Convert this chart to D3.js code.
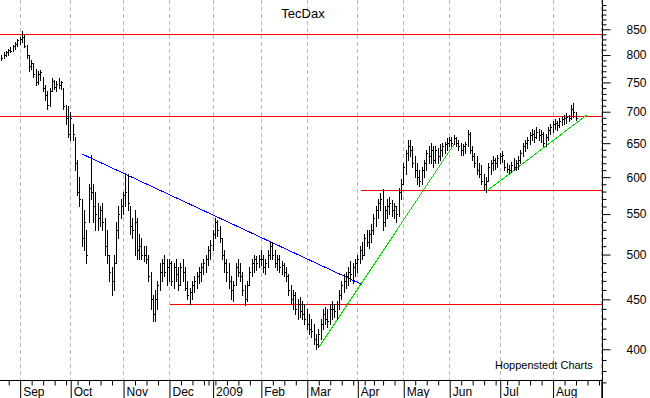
<!DOCTYPE html>
<html>
<head>
<meta charset="utf-8">
<script src="https://cdn.jsdelivr.net/npm/d3@7/dist/d3.min.js"></script>
<style>
  body { margin: 0; background: #fff; }
  svg { display: block; }
  text { font-family: "Liberation Sans", Arial, sans-serif; fill: #000; }
</style>
</head>
<body>
<svg id="chart" width="650" height="398"></svg>
<script>
// trading calendar (Xetra), first bar 2008-08-20
const firstDay = "2008-08-20";
const lastDay = "2009-09-04";
const holidays = ["2008-12-24", "2008-12-25", "2008-12-26", "2008-12-31",
  "2009-01-01", "2009-04-10", "2009-04-13", "2009-05-01"];

// daily bars
const highs = [
  800, 805, 808, 812, 815, 820, 825, 830, 835, 847, 838, 820, 800, 790, 785, 775, 770, 772, 760, 745,
  735, 740, 758, 755, 752, 758, 752, 740, 712, 710, 700, 680, 660, 625, 600, 570, 555, 530, 590, 632,
  590, 580, 565, 560, 565, 545, 530, 500, 485, 500, 540, 560, 570, 580, 606, 604, 560, 545, 555, 545,
  525, 520, 510, 510, 500, 480, 455, 460, 470, 490, 495, 500, 495, 495, 492, 490, 495, 485, 490, 495,
  485, 470, 462, 470, 475, 480, 485, 490, 495, 500, 510, 518, 530, 545, 542, 535, 520, 505, 495, 490,
  475, 470, 490, 495, 490, 480, 465, 470, 485, 495, 500, 498, 500, 505, 500, 495, 505, 515, 515, 505,
  500, 500, 492, 490, 485, 478, 465, 460, 458, 450, 452, 448, 445, 440, 435, 430, 425, 415, 420, 430,
  440, 442, 440, 445, 448, 445, 448, 460, 470, 478, 480, 485, 492, 490, 495, 500, 510, 515, 525, 530,
  530, 537, 550, 560, 570, 578, 583, 560, 570, 572, 568, 565, 560, 585, 598, 620, 640, 655, 655, 645,
  630, 620, 610, 615, 625, 640, 645, 650, 645, 645, 642, 648, 650, 652, 658, 660, 660, 662, 660, 655,
  650, 648, 652, 670, 668, 645, 635, 630, 620, 618, 605, 600, 620, 625, 630, 628, 632, 635, 638, 625,
  620, 618, 622, 628, 625, 630, 640, 650, 655, 660, 668, 672, 670, 675, 672, 670, 668, 665, 675, 680,
  685, 688, 685, 690, 692, 695, 698, 695, 712, 714, 700
];
const lows = [
  790, 795, 798, 800, 805, 808, 812, 818, 822, 825, 815, 795, 770, 775, 760, 745, 748, 755, 735, 720,
  705, 710, 735, 738, 735, 740, 738, 705, 680, 660, 655, 655, 610, 575, 560, 510, 505, 490, 540, 570,
  540, 530, 530, 535, 530, 500, 490, 470, 455, 460, 490, 520, 545, 550, 560, 555, 525, 520, 500, 495,
  495, 495, 492, 490, 470, 440, 428, 428, 440, 460, 470, 475, 465, 470, 465, 462, 470, 460, 465, 470,
  460, 450, 445, 450, 458, 462, 468, 470, 478, 480, 488, 495, 505, 520, 522, 515, 495, 480, 470, 462,
  450, 448, 465, 475, 470, 455, 444, 448, 465, 475, 480, 482, 485, 488, 480, 478, 485, 495, 495, 485,
  482, 480, 478, 475, 470, 455, 445, 440, 435, 430, 432, 430, 425, 420, 415, 412, 405, 400, 402, 410,
  420, 425, 422, 425, 430, 432, 430, 440, 450, 458, 462, 465, 470, 468, 475, 480, 490, 495, 500, 510,
  508, 515, 525, 535, 545, 555, 530, 535, 545, 550, 548, 545, 540, 548, 570, 590, 605, 625, 630, 615,
  600, 590, 588, 590, 600, 610, 620, 620, 615, 620, 620, 625, 630, 635, 640, 645, 645, 648, 645, 640,
  632, 632, 635, 645, 635, 625, 615, 605, 600, 590, 582, 579, 595, 605, 610, 612, 615, 620, 622, 610,
  608, 605, 608, 610, 610, 612, 620, 630, 638, 642, 648, 655, 652, 658, 655, 652, 645, 645, 655, 665,
  668, 672, 670, 675, 678, 680, 682, 685, 688, 692, 686
];
const closes = [
  795, 800, 805, 810, 808, 818, 822, 828, 830, 835, 818, 800, 780, 785, 765, 750, 765, 768, 740, 728,
  712, 735, 752, 742, 748, 745, 750, 710, 690, 665, 690, 665, 620, 580, 570, 520, 540, 500, 585, 580,
  560, 550, 545, 555, 540, 510, 500, 480, 470, 490, 530, 550, 560, 575, 580, 565, 535, 530, 540, 505,
  510, 500, 500, 495, 475, 450, 435, 450, 465, 480, 490, 480, 485, 490, 470, 485, 478, 465, 485, 480,
  462, 455, 458, 465, 470, 475, 480, 485, 490, 495, 505, 512, 525, 540, 530, 520, 500, 490, 480, 470,
  460, 465, 485, 480, 475, 460, 450, 465, 480, 490, 495, 490, 495, 495, 485, 490, 500, 510, 500, 490,
  495, 485, 488, 480, 475, 460, 450, 455, 440, 445, 438, 435, 430, 425, 420, 418, 410, 405, 415, 425,
  435, 430, 428, 440, 440, 438, 445, 455, 465, 470, 475, 480, 478, 485, 490, 495, 505, 500, 520, 515,
  525, 530, 545, 555, 565, 570, 540, 555, 560, 565, 555, 560, 550, 580, 590, 615, 635, 645, 640, 620,
  610, 600, 595, 610, 620, 635, 630, 640, 625, 640, 630, 640, 645, 648, 650, 655, 650, 658, 650, 645,
  640, 645, 648, 665, 640, 630, 620, 610, 605, 595, 590, 595, 615, 620, 625, 620, 628, 630, 632, 615,
  612, 610, 618, 615, 620, 625, 635, 645, 650, 655, 662, 665, 660, 668, 662, 665, 650, 660, 670, 675,
  680, 682, 678, 685, 688, 690, 692, 690, 705, 700, 690
];

const yTicks = [400, 450, 500, 550, 600, 650, 700, 750, 800, 850];
const yMinor = d3.range(370, 901, 10);
const monthLabels = ["Jan", "Feb", "Mar", "Apr", "May", "Jun", "Jul", "Aug", "Sep", "Oct", "Nov", "Dec"];

// horizontal support / resistance levels: [value, from date or null]
const levelValues = [840, 693, 445, 582];
const levelStarts = [null, null, "2008-12-01", "2009-04-02"];

// trend lines: [from date, from value, to date, to value]
const trendLines = [
  ["2008-10-08", 634, "2009-04-03", 466],
  ["2009-03-09", 401, "2009-06-03", 648],
  ["2009-06-23", 580, "2009-08-24", 695]
];
const trendColors = ["#0000ff", "#00e000", "#00e000"];

const svg = d3.select("#chart");
const W = 602, H = 380;

const parse = d3.timeParse("%Y-%m-%d");
const fmt = d3.timeFormat("%Y-%m-%d");
const off = new Set(holidays);
const days = d3.timeDay.range(parse(firstDay), d3.timeDay.offset(parse(lastDay), 1))
  .filter(d => d.getDay() % 6 !== 0 && !off.has(fmt(d)));
const dayIndex = new Map(days.map((d, i) => [fmt(d), i]));

const x = d3.scaleLinear().domain([0, 261]).range([1.3, 600.8]);
const y = d3.scaleLog().domain([400, 850]).range([349.3, 29.3]);
const px = v => Math.round(v) + 0.5;

const monthStarts = days.map((d, i) => i).filter(i => i > 0 && days[i].getMonth() !== days[i - 1].getMonth());
const weekStarts = days.map((d, i) => i).filter(i => i > 0 && d3.timeMonday.floor(days[i]) > days[i - 1]
  && !monthStarts.includes(i));

// dashed month grid
svg.append("g")
  .selectAll("line")
  .data(monthStarts)
  .join("line")
  .attr("x1", i => px(x(i))).attr("x2", i => px(x(i)))
  .attr("y1", 0).attr("y2", H)
  .attr("stroke", "#b8b8b8")
  .attr("stroke-dasharray", "4,3");

// levels
svg.append("g")
  .selectAll("line")
  .data(levelValues)
  .join("line")
  .attr("x1", (v, k) => levelStarts[k] ? px(x(dayIndex.get(levelStarts[k]))) : 0)
  .attr("x2", W)
  .attr("y1", v => px(y(v))).attr("y2", v => px(y(v)))
  .attr("stroke", "#ff0000")
  .attr("shape-rendering", "crispEdges");

// trend lines
svg.append("g")
  .selectAll("line")
  .data(trendLines)
  .join("line")
  .attr("x1", t => x(dayIndex.get(t[0]))).attr("y1", t => y(t[1]))
  .attr("x2", t => x(dayIndex.get(t[2]))).attr("y2", t => y(t[3]))
  .attr("stroke", (t, k) => trendColors[k])
  .attr("shape-rendering", "crispEdges");

// bars: high-low stroke with a short close tick
const bars = svg.append("g")
  .attr("stroke", "#000")
  .attr("shape-rendering", "crispEdges");
closes.forEach((c, i) => {
  const bx = px(x(i));
  bars.append("line")
    .attr("x1", bx).attr("x2", bx)
    .attr("y1", Math.round(y(highs[i]))).attr("y2", Math.round(y(lows[i])) + 1);
  bars.append("line")
    .attr("x1", bx + 0.5).attr("x2", bx + 1.5)
    .attr("y1", px(y(c))).attr("y2", px(y(c)));
});

// right axis
const yAxis = svg.append("g")
  .attr("transform", `translate(${px(W)},0)`)
  .call(d3.axisRight(y).tickValues(yTicks).tickFormat(d3.format("d")).tickSize(8).tickPadding(16).tickSizeOuter(0));
yAxis.select(".domain").remove();
yAxis.selectAll("text").attr("font-size", 12).attr("font-family", "Liberation Sans, Arial, sans-serif");

svg.append("g")
  .attr("transform", `translate(${px(W)},0)`)
  .call(d3.axisRight(y).tickValues(yMinor.filter(v => !yTicks.includes(v))).tickFormat("").tickSize(4).tickSizeOuter(0))
  .select(".domain").remove();

svg.append("line")
  .attr("x1", px(W)).attr("x2", px(W))
  .attr("y1", 0).attr("y2", 398)
  .attr("stroke", "#000");

// bottom axis
const xAxis = svg.append("g")
  .attr("transform", `translate(0,${px(H)})`)
  .call(d3.axisBottom(x).tickValues(monthStarts).tickSize(18).tickSizeOuter(0)
    .tickFormat(i => days[i].getMonth() === 0 ? String(days[i].getFullYear()) : monthLabels[days[i].getMonth()]));
xAxis.select(".domain").remove();
xAxis.selectAll(".tick line").attr("transform", "translate(0.5,0)");
xAxis.selectAll("text")
  .attr("text-anchor", "start")
  .attr("x", 3).attr("y", 15).attr("dy", null)
  .attr("font-size", 12)
  .attr("font-family", "Liberation Sans, Arial, sans-serif")
  .attr("display", i => x(i) > 590 ? "none" : null);

svg.append("g")
  .attr("transform", `translate(0,${px(H)})`)
  .call(d3.axisBottom(x).tickValues(weekStarts).tickFormat("").tickSize(5).tickSizeOuter(0))
  .call(g => g.select(".domain").remove())
  .selectAll(".tick line").attr("transform", "translate(0.5,0)");

svg.append("line")
  .attr("x1", 0).attr("x2", px(W))
  .attr("y1", px(H)).attr("y2", px(H))
  .attr("stroke", "#000");

// texts
svg.append("text")
  .attr("x", 303).attr("y", 18)
  .attr("text-anchor", "middle")
  .attr("font-size", 13)
  .text("TecDax");

svg.append("text")
  .attr("x", 495).attr("y", 369)
  .attr("font-size", 11)
  .text("Hoppenstedt Charts");
</script>
</body>
</html>
